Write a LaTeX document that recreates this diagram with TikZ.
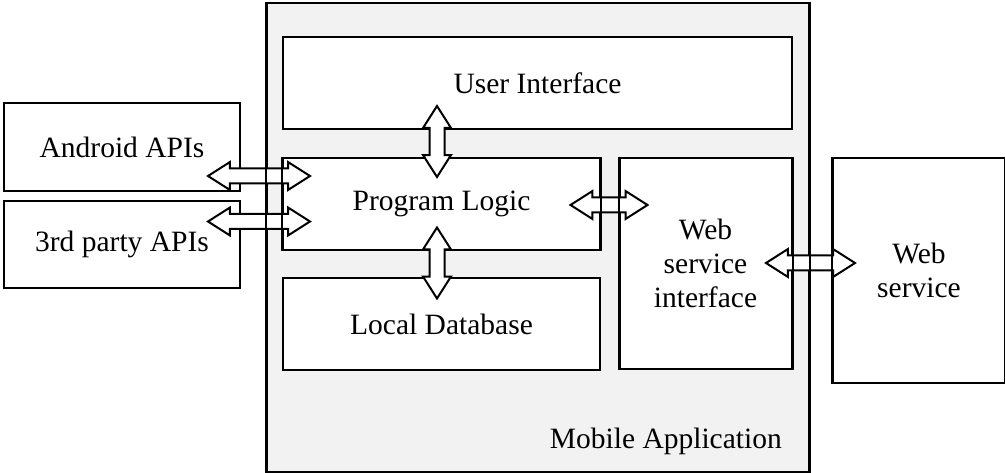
\documentclass[tikz,border=0pt]{standalone}
\usepackage{fontspec}
\setmainfont{Liberation Serif}
\usetikzlibrary{shapes.arrows}
\begin{document}
\begin{tikzpicture}[x=1pt,y=-1pt,
  every node/.style={font=\fontsize{29.5}{34}\selectfont},
  lw/.style={line width=2pt},
  box/.style={lw, draw=black, fill=white, anchor=north west, inner sep=0pt, align=center},
  darrow/.style={double arrow, lw, draw=black, fill=white, inner xsep=0pt, inner ysep=6.5pt,
     double arrow head extend=6.5pt, double arrow tip angle=65},
  label/.style={inner sep=0pt}]
\useasboundingbox (0,0) rectangle (1005,473);
% outer container
\node[box, fill=black!5, minimum width=542pt, minimum height=469pt] (mobile) at (266,2) {};
\node[label, anchor=base east] (mlabel) at (782,448) {Mobile Application};
% inner boxes
\node[box, minimum width=509pt, minimum height=92pt] (ui) at (282,36) {User Interface};
\node[box, minimum width=317pt, minimum height=92pt] (plogic) at (282,157) {Program Logic};
\node[box, minimum width=317pt, minimum height=92pt] (ldb) at (282,277) {Local Database};
\node[box, minimum width=172pt, minimum height=211pt] (wsi) at (618.5,157) {Web\\service\\interface};
% outside boxes
\node[box, minimum width=236pt, minimum height=88pt] (android) at (3,102) {Android APIs};
\node[box, minimum width=236pt, minimum height=87pt] (third) at (3,200) {3rd party APIs};
\node[box, minimum width=172pt, minimum height=225pt] (ws) at (832,157) {Web\\service};
% double arrows
\node[darrow, minimum height=102pt] (a1) at (259,176) {};
\node[darrow, minimum height=102pt] (a2) at (259,221.5) {};
\node[darrow, minimum height=77pt] (a3) at (609,205) {};
\node[darrow, minimum height=89pt] (a4) at (810.5,263) {};
\node[darrow, minimum height=71pt, rotate=90] (a5) at (437,141.5) {};
\node[darrow, minimum height=71pt, rotate=90] (a6) at (437,263) {};
% vertical edges drawn over the horizontal arrows
\draw[lw] (mobile.north west) -- (mobile.south west);
\draw[lw] (mobile.north east) -- (mobile.south east);
\draw[lw] (plogic.north west) -- (plogic.south west);
\draw[lw] (plogic.north east) -- (plogic.south east);
\draw[lw] (wsi.north west) -- (wsi.south west);
\draw[lw] (wsi.north east) -- (wsi.south east);
\draw[lw] (ws.north west) -- (ws.south west);
\end{tikzpicture}
\end{document}
